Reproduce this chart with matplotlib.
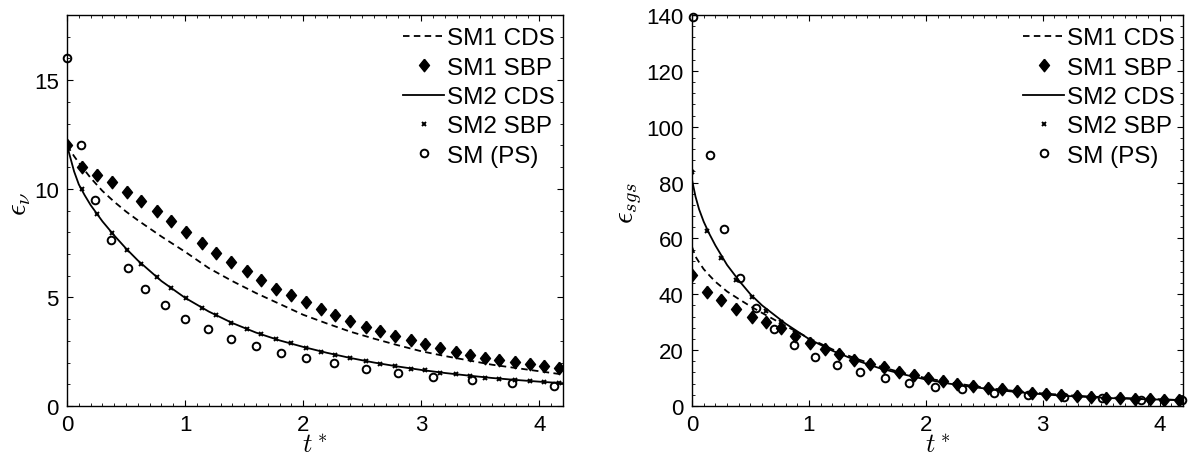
import matplotlib
matplotlib.use("Agg")
import matplotlib.pyplot as plt
from matplotlib.ticker import MultipleLocator

plt.rcParams['font.family'] = ['Liberation Sans', 'DejaVu Sans']
plt.rcParams['mathtext.fontset'] = 'cm'

# ---------------- data ----------------
t_sbp = [0.00, 0.13, 0.25, 0.38, 0.51, 0.63, 0.76, 0.88, 1.01, 1.14, 1.26, 1.39,
         1.52, 1.64, 1.77, 1.90, 2.02, 2.15, 2.27, 2.40, 2.53, 2.65, 2.78, 2.91,
         3.03, 3.16, 3.29, 3.41, 3.54, 3.66, 3.79, 3.92, 4.04, 4.17]
t_cds = [0, 0.03, 0.06, 0.1, 0.15, 0.2, 0.3, 0.4, 0.5, 0.6, 0.8, 1.0, 1.2, 1.4,
         1.6, 1.8, 2.0, 2.2, 2.4, 2.6, 2.8, 3.0, 3.2, 3.4, 3.6, 3.8, 4.0, 4.2]

# left panel: epsilon_nu
nu_sm1_cds = [12.0, 11.75, 11.5, 11.2, 10.85, 10.5, 9.9, 9.4, 8.95, 8.55, 7.8, 7.1,
              6.35, 5.75, 5.2, 4.7, 4.2, 3.8, 3.42, 3.1, 2.8, 2.52, 2.3, 2.1, 1.9,
              1.75, 1.6, 1.45]
nu_sm1_sbp = [12.02, 10.98, 10.62, 10.29, 9.86, 9.44, 8.98, 8.52, 8.01, 7.52, 7.06,
              6.63, 6.22, 5.80, 5.40, 5.11, 4.79, 4.45, 4.18, 3.92, 3.65, 3.43, 3.22,
              3.02, 2.84, 2.67, 2.50, 2.36, 2.23, 2.12, 2.02, 1.92, 1.84, 1.74]
nu_sm2_cds = [12.0, 11.4, 10.8, 10.2, 9.7, 9.25, 8.5, 7.85, 7.25, 6.7, 5.75, 4.98,
              4.35, 3.82, 3.38, 3.02, 2.72, 2.45, 2.21, 2.0, 1.82, 1.66, 1.52, 1.40,
              1.29, 1.2, 1.12, 1.05]
nu_sm2_sbp = [12.0, 9.98, 8.83, 7.98, 7.19, 6.56, 5.96, 5.44, 4.96, 4.53, 4.18, 3.84,
              3.56, 3.33, 3.07, 2.89, 2.69, 2.50, 2.35, 2.20, 2.07, 1.92, 1.84, 1.72,
              1.64, 1.54, 1.46, 1.38, 1.31, 1.26, 1.20, 1.15, 1.11, 1.04]
t_ps_nu = [0.0, 0.12, 0.24, 0.37, 0.52, 0.66, 0.83, 1.00, 1.19, 1.39, 1.60, 1.81,
           2.02, 2.26, 2.53, 2.80, 3.10, 3.43, 3.77, 4.12]
nu_ps = [16.04, 12.02, 9.47, 7.63, 6.37, 5.40, 4.64, 4.02, 3.53, 3.10, 2.76, 2.43,
         2.20, 1.97, 1.72, 1.54, 1.34, 1.18, 1.06, 0.92]

# right panel: epsilon_sgs
sgs_sm1_cds = [57, 53.5, 51.5, 49, 46.7, 44.5, 41, 38.3, 35.7, 33.3, 28.7, 24.3, 20.3,
               17.0, 14.2, 11.9, 10.0, 8.5, 7.2, 6.1, 5.2, 4.5, 3.9, 3.4, 3.0, 2.7,
               2.4, 2.1]
sgs_sm1_sbp = [47.0, 40.7, 37.9, 34.9, 32.0, 29.9, 27.8, 25.1, 22.7, 20.3, 18.5, 16.5,
               15.2, 13.8, 12.3, 11.1, 9.9, 9.0, 8.0, 7.2, 6.6, 6.0, 5.4, 4.8, 4.2,
               3.8, 3.6, 3.2, 3.0, 2.9, 2.5, 2.4, 2.2, 2.0]
sgs_sm2_cds = [81, 75, 70.5, 66, 61.5, 57.5, 50.5, 45, 40, 36, 29.5, 24.0, 19.8, 16.4,
               13.6, 11.4, 9.5, 8.0, 6.8, 5.8, 4.9, 4.2, 3.6, 3.2, 2.8, 2.5, 2.3, 2.1]
sgs_sm2_sbp = [83.8, 62.8, 52.9, 45.1, 39.1, 34.1, 29.9, 26.3, 23.3, 20.6, 18.2, 16.2,
               14.4, 12.9, 11.7, 10.4, 9.3, 8.4, 7.4, 6.8, 6.2, 5.6, 5.0, 4.5, 4.1,
               3.7, 3.4, 3.1, 2.9, 2.6, 2.5, 2.3, 2.2, 2.0]
t_ps_sgs = [0.01, 0.15, 0.27, 0.41, 0.55, 0.70, 0.87, 1.05, 1.24, 1.44, 1.65, 1.86,
            2.08, 2.31, 2.58, 2.87, 3.18, 3.51, 3.84, 4.19]
sgs_ps = [139.4, 90.0, 63.2, 45.7, 35.1, 27.5, 21.8, 17.7, 14.6, 12.0, 9.9, 8.4, 6.9,
          6.0, 4.8, 3.9, 3.2, 2.75, 2.2, 2.0]

labels = ['SM1 CDS', 'SM1 SBP', 'SM2 CDS', 'SM2 SBP', 'SM (PS)']
xlabel = r'$t^*$'
ylabels = [r'$\epsilon_\nu$', r'$\epsilon_{sgs}$']

# ---------------- figure ----------------
W, H = 1193, 460
fig = plt.figure(figsize=(W / 100, H / 100), dpi=100)

def px_axes(x0, x1, y0, y1):
    return fig.add_axes([x0 / W, 1 - y1 / H, (x1 - x0) / W, (y1 - y0) / H])

axL = px_axes(67, 563, 16, 407)
axR = px_axes(692, 1183, 16, 407)

diamond = [(0, 1), (0.8, 0), (0, -1), (-0.8, 0), (0, 1)]

def draw(ax, cds1, sbp1, cds2, sbp2, tps, ps):
    ax.plot(t_cds, cds1, color='black', lw=1.3, ls=(0, (3.6, 2.4)), label=labels[0])
    ax.plot(t_sbp, sbp1, ls='none', marker=diamond, ms=9, color='black',
            label=labels[1])
    ax.plot(t_cds, cds2, color='black', lw=1.3, ls='-', label=labels[2])
    ax.plot(t_sbp, sbp2, ls='none', marker='x', ms=3.5, mew=1.4, color='black',
            label=labels[3])
    ax.plot(tps, ps, ls='none', marker='o', ms=5.5, mew=1.4, mfc='none',
            mec='black', label=labels[4], clip_on=False)

draw(axL, nu_sm1_cds, nu_sm1_sbp, nu_sm2_cds, nu_sm2_sbp, t_ps_nu, nu_ps)
draw(axR, sgs_sm1_cds, sgs_sm1_sbp, sgs_sm2_cds, sgs_sm2_sbp, t_ps_sgs, sgs_ps)

axL.set_xlim(0, 4.2)
axL.set_ylim(0, 18)
axL.yaxis.set_major_locator(MultipleLocator(5))
axL.yaxis.set_minor_locator(MultipleLocator(1))
axR.set_xlim(0, 4.2)
axR.set_ylim(0, 140)
axR.yaxis.set_major_locator(MultipleLocator(20))
axR.yaxis.set_minor_locator(MultipleLocator(4))

for ax, yl, ylx in [(axL, ylabels[0], -0.097), (axR, ylabels[1], -0.126)]:
    ax.xaxis.set_major_locator(MultipleLocator(1))
    ax.xaxis.set_minor_locator(MultipleLocator(0.1))
    ax.tick_params(which='both', direction='in', top=True, right=True,
                   labelsize=16, colors='black', pad=6)
    ax.tick_params(which='major', length=4, width=0.8)
    ax.tick_params(which='minor', length=2, width=0.6)
    for s in ax.spines.values():
        s.set_linewidth(1.0)
    ax.set_xlabel(xlabel, fontsize=19)
    ax.xaxis.set_label_coords(0.5, -0.069)
    ax.xaxis.label.set_va('top')
    ax.set_ylabel(yl, fontsize=21)
    ax.yaxis.set_label_coords(ylx, 0.52)
    ax.yaxis.label.set_va('center')
    leg = ax.legend(loc='upper right', bbox_to_anchor=(1.0, 0.99), frameon=False,
                    fontsize=17.5, handlelength=1.7, handletextpad=0.1,
                    labelspacing=0.3, borderaxespad=0.15, borderpad=0.2)

fig.savefig('out.png', dpi=100)
